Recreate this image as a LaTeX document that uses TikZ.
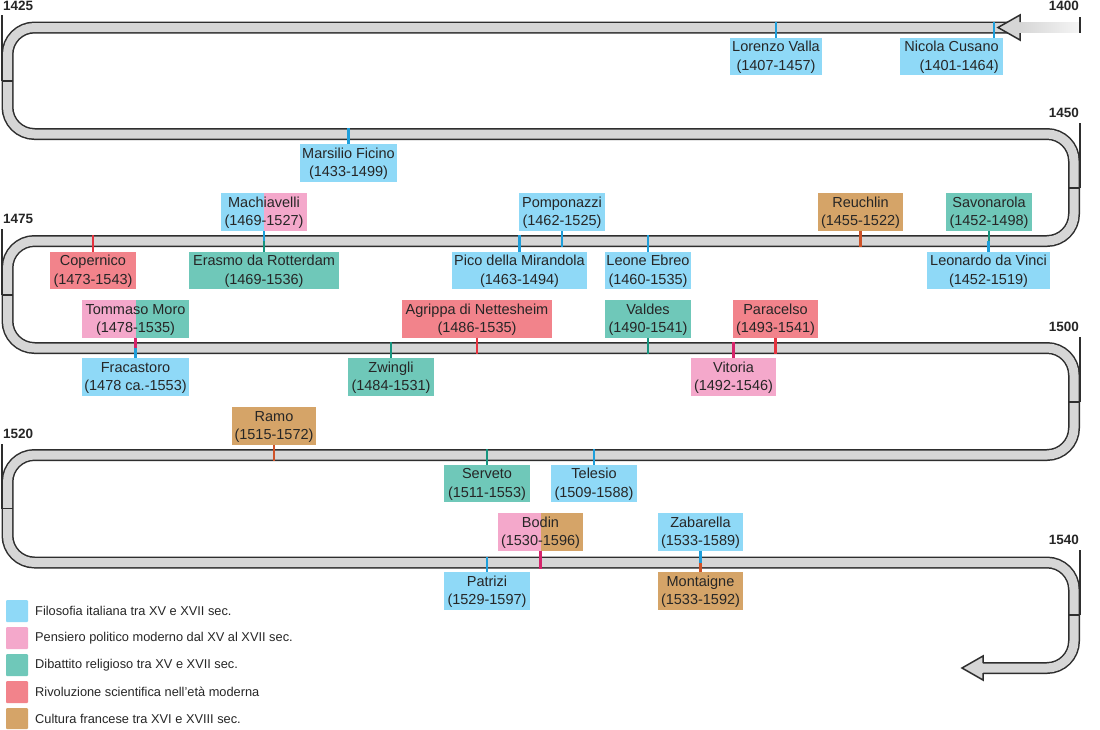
\documentclass[tikz,border=0pt]{standalone}
\usepackage{fontspec}
\setmainfont{Liberation Sans}
\definecolor{fBlue}{HTML}{8FD9F7}
\definecolor{fPink}{HTML}{F4A8CB}
\definecolor{fTeal}{HTML}{6FC8B9}
\definecolor{fRed}{HTML}{F2838B}
\definecolor{fTan}{HTML}{D5A468}
\definecolor{lBlue}{HTML}{1E9FDB}
\definecolor{lTeal}{HTML}{16957F}
\definecolor{lCrim}{HTML}{D6246B}
\definecolor{lRed}{HTML}{E5333F}
\definecolor{lOrg}{HTML}{CF5228}
\definecolor{band}{HTML}{D6D6D6}
\definecolor{edge}{HTML}{2E2E2E}
\begin{document}
\begin{tikzpicture}[x=1pt,y=-1pt,
  bx/.style={rectangle, inner sep=0pt, minimum height=37.5pt, text height=32.6pt, text depth=4.9pt,
    align=center, font=\fontsize{14.5}{18.7}\selectfont, text=black!85},
  fb/.style={bx, fill=fBlue},
  fp/.style={bx, fill=fPink},
  ft/.style={bx, fill=fTeal},
  fr/.style={bx, fill=fRed},
  fo/.style={bx, fill=fTan},
  splitbox/.style 2 args={bx, path picture={
    \fill[#1] (path picture bounding box.south west) rectangle (path picture bounding box.north);
    \fill[#2] (path picture bounding box.south) rectangle (path picture bounding box.north east);}},
  cn/.style={line width=2.4pt},
  cb/.style={cn, draw=lBlue},
  ct/.style={cn, draw=lTeal},
  cc/.style={cn, draw=lCrim},
  cr/.style={cn, draw=lRed},
  co/.style={cn, draw=lOrg},
  track/.style={draw=edge, double=band, double distance=9pt, line width=1.5pt, rounded corners=27pt},
  yr/.style={font=\fontsize{13.5}{13.5}\selectfont\bfseries, text=black!85, inner sep=0pt},
  tick/.style={draw=edge, line width=1.5pt},
  leg/.style={font=\fontsize{12.8}{14}\selectfont, text=black!85, anchor=west, inner sep=0pt},
  sq/.style={rounded corners=1pt}
]
\useasboundingbox (0,0) rectangle (1100,729);
\fill[white] (0,0) rectangle (1100,729);

% row levels (top, center, bottom of band)
\coordinate (r1t) at (0,22);  \coordinate (r1c) at (0,27.5);
\coordinate (r2t) at (0,128); \coordinate (r2c) at (0,134);  \coordinate (r2b) at (0,140);
\coordinate (r3t) at (0,235); \coordinate (r3c) at (0,241);  \coordinate (r3b) at (0,247);
\coordinate (r4t) at (0,342); \coordinate (r4c) at (0,348);  \coordinate (r4b) at (0,354);
\coordinate (r5t) at (0,449); \coordinate (r5c) at (0,455);  \coordinate (r5b) at (0,461);
\coordinate (r6t) at (0,556.5); \coordinate (r6c) at (0,562.5); \coordinate (r6b) at (0,568.5);

% track
\shade[left color=band, right color=gray!8] (1020,22.6) rectangle (1080,32.4);
\draw[track] (1008,27.5) -- (7.5,27.5) -- (7.5,134) -- (1074,134) -- (1074,241)
  -- (7.5,241) -- (7.5,348) -- (1074,348) -- (1074,455) -- (7.5,455) -- (7.5,562.5)
  -- (1074,562.5) -- (1074,668) -- (983,668);
\filldraw[fill=band, draw=edge, line width=1.5pt, line join=miter]
  (1020,22) -- (1020,15) -- (998,27.5) -- (1020,40) -- (1020,33);
\filldraw[fill=band, draw=edge, line width=1.5pt, line join=miter]
  (983,663) -- (983,656) -- (962,668) -- (983,680) -- (983,673);

% year marks
\node[yr, anchor=east] (y1400) at (1079,6) {1400};
\draw[tick] (1080,17) -- (1080,33);
\node[yr, anchor=west] (y1425) at (3,6) {1425};
\draw[tick] (2,15) -- (2,81); \draw[tick] (2,81) -- (13,81);
\node[yr, anchor=east] (y1450) at (1079,113) {1450};
\draw[tick] (1080,123) -- (1080,188); \draw[tick] (1069,188) -- (1080,188);
\node[yr, anchor=west] (y1475) at (3,219) {1475};
\draw[tick] (2,229) -- (2,295); \draw[tick] (2,295) -- (13,295);
\node[yr, anchor=east] (y1500) at (1079,327) {1500};
\draw[tick] (1080,337) -- (1080,402); \draw[tick] (1069,402) -- (1080,402);
\node[yr, anchor=west] (y1520) at (3,434) {1520};
\draw[tick] (2,444) -- (2,508.5); \draw[tick] (2,508.5) -- (13,508.5);
\node[yr, anchor=east] (y1540) at (1079,540) {1540};
\draw[tick] (1080,550) -- (1080,615); \draw[tick] (1069,615) -- (1080,615);

% row 1
\node[fb, minimum width=92pt] (valla) at (776,56.5) {Lorenzo Valla\\(1407-1457)};
\node[fb, minimum width=103pt, align=right] (cusano) at (951.5,56.5) {Nicola Cusano\\(1401-1464)};
\draw[cb] (valla.north) -- (valla.north |- r1t);
\coordinate (cusC) at ([xshift=42.5pt]cusano.north);
\draw[cb] (cusC) -- (cusC |- r1t);

% row 2
\node[fb, minimum width=97pt] (ficino) at (348.5,163) {Marsilio Ficino\\(1433-1499)};
\draw[cb] (ficino.north) -- (ficino.north |- r2t);

% row 3 above
\node[splitbox={fBlue}{fPink}, minimum width=86pt] (machia) at (264,212) {Machiavelli\\(1469-1527)};
\node[fb, minimum width=86pt] (pompo) at (562,212) {Pomponazzi\\(1462-1525)};
\node[fo, minimum width=85pt] (reuch) at (860.5,212) {Reuchlin\\(1455-1522)};
\node[ft, minimum width=86pt] (savon) at (989,212) {Savonarola\\(1452-1498)};
% row 3 below
\node[fr, minimum width=86pt] (coper) at (93,270.5) {Copernico\\(1473-1543)};
\node[ft, minimum width=150pt] (erasmo) at (264,270.5) {Erasmo da Rotterdam\\(1469-1536)};
\node[fb, minimum width=135pt] (pico) at (519.5,270.5) {Pico della Mirandola\\(1463-1494)};
\node[fb, minimum width=86pt] (leone) at (648,270.5) {Leone Ebreo\\(1460-1535)};
\node[fb, minimum width=123pt] (leonardo) at (988.5,270.5) {Leonardo da Vinci\\(1452-1519)};
\draw[cb] (machia.south) -- (machia.south |- r3c);
\draw[ct] (erasmo.north) -- (erasmo.north |- r3c);
\draw[cb] (pompo.south) -- (pompo.south |- r3b);
\draw[co] (reuch.south) -- (reuch.south |- r3b);
\draw[ct] (savon.south) -- (savon.south |- r3c);
\draw[cb] (leonardo.north) -- (leonardo.north |- r3c);
\draw[cr] (coper.north) -- (coper.north |- r3t);
\draw[cb] (pico.north) -- (pico.north |- r3t);
\draw[cb] (leone.north) -- (leone.north |- r3t);

% row 4 above
\node[splitbox={fPink}{fTeal}, minimum width=107pt] (moro) at (135.5,319) {Tommaso Moro\\(1478-1535)};
\node[fr, minimum width=150pt] (agrippa) at (477,319) {Agrippa di Nettesheim\\(1486-1535)};
\node[ft, minimum width=86pt] (valdes) at (648,319) {Valdes\\(1490-1541)};
\node[fr, minimum width=85pt] (parac) at (775.5,319) {Paracelso\\(1493-1541)};
% row 4 below
\node[fb, minimum width=107pt] (fraca) at (135.5,377) {Fracastoro\\(1478 ca.-1553)};
\node[ft, minimum width=86pt] (zwingli) at (391,377) {Zwingli\\(1484-1531)};
\node[fp, minimum width=85pt] (vitoria) at (733.5,377) {Vitoria\\(1492-1546)};
\draw[cc] (moro.south) -- (moro.south |- r4c);
\draw[cb] (fraca.north) -- (fraca.north |- r4c);
\draw[cr] (agrippa.south) -- (agrippa.south |- r4b);
\draw[ct] (valdes.south) -- (valdes.south |- r4b);
\draw[cr] (parac.south) -- (parac.south |- r4b);
\draw[ct] (zwingli.north) -- (zwingli.north |- r4t);
\draw[cc] (vitoria.north) -- (vitoria.north |- r4t);

% row 5
\node[fo, minimum width=84pt] (ramo) at (274,426) {Ramo\\(1515-1572)};
\node[ft, minimum width=86pt] (serveto) at (487,483.5) {Serveto\\(1511-1553)};
\node[fb, minimum width=86pt] (telesio) at (594,483.5) {Telesio\\(1509-1588)};
\draw[co] (ramo.south) -- (ramo.south |- r5b);
\draw[ct] (serveto.north) -- (serveto.north |- r5t);
\draw[cb] (telesio.north) -- (telesio.north |- r5t);

% row 6
\node[splitbox={fPink}{fTan}, minimum width=85pt] (bodin) at (540.5,532) {Bodin\\(1530-1596)};
\node[fb, minimum width=85pt] (zabar) at (700.5,532) {Zabarella\\(1533-1589)};
\node[fb, minimum width=86pt] (patrizi) at (487,591) {Patrizi\\(1529-1597)};
\node[fo, minimum width=85pt] (monta) at (700.5,591) {Montaigne\\(1533-1592)};
\draw[cc] (bodin.south) -- (bodin.south |- r6b);
\draw[cb] (zabar.south) -- (zabar.south |- r6c);
\draw[co] (monta.north) -- (monta.north |- r6c);
\draw[cb] (patrizi.north) -- (patrizi.north |- r6t);

% legend
\fill[fBlue, sq] (6,600) rectangle (28,622);
\node[leg] (l1) at (35,611) {Filosofia italiana tra XV e XVII sec.};
\fill[fPink, sq] (6,627) rectangle (28,649);
\node[leg] (l2) at (35,638) {Pensiero politico moderno dal XV al XVII sec.};
\fill[fTeal, sq] (6,654) rectangle (28,676);
\node[leg] (l3) at (35,665) {Dibattito religioso tra XV e XVII sec.};
\fill[fRed, sq] (6,681) rectangle (28,703);
\node[leg] (l4) at (35,692) {Rivoluzione scientifica nell'età moderna};
\fill[fTan, sq] (6,708) rectangle (28,729);
\node[leg] (l5) at (35,719) {Cultura francese tra XVI e XVIII sec.};
\end{tikzpicture}
\end{document}
